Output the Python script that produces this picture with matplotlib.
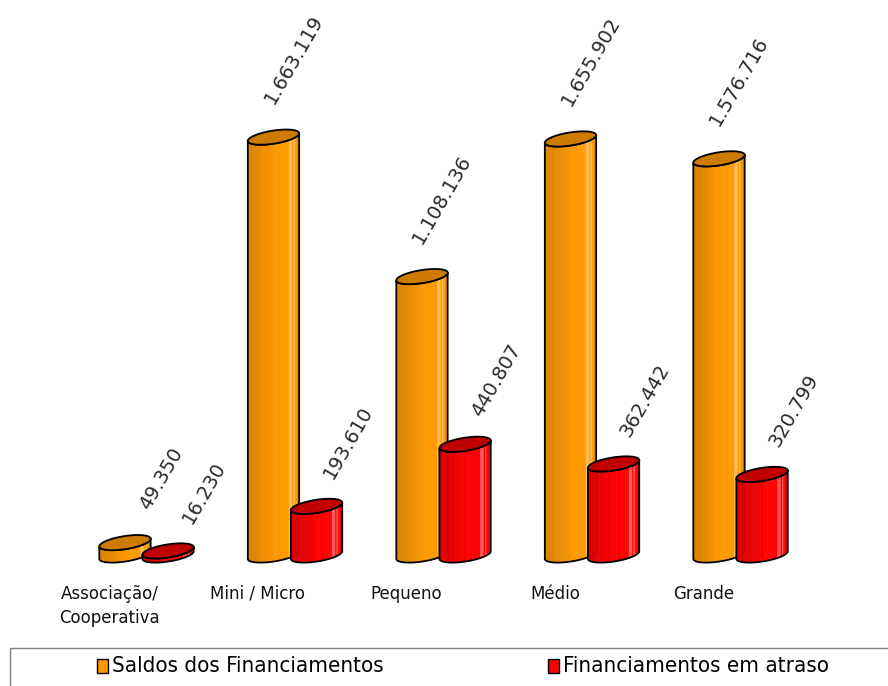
import numpy as np
import matplotlib.pyplot as plt
from matplotlib.patches import Polygon, Rectangle
from matplotlib.transforms import IdentityTransform
from matplotlib.colors import to_rgb

categories = ["Associação/\nCooperativa", "Mini / Micro", "Pequeno", "Médio", "Grande"]
saldos = [49350, 1663119, 1108136, 1655902, 1576716]
atraso = [16230, 193610, 440807, 362442, 320799]
series_names = ["Saldos dos Financiamentos", "Financiamentos em atraso"]
series_colors = ["#FF9900", "#FF0000"]
top_colors = ["#CC7A00", "#C00000"]


def fmt(v):
    return f"{v:,}".replace(",", ".")


def ellipse_pts(cx, cy, rx, ry, ang, t):
    c, s = np.cos(ang), np.sin(ang)
    x = rx * np.cos(t)
    y = ry * np.sin(t)
    return np.column_stack([cx + c * x - s * y, cy + s * x + c * y])


def shade(base, u):
    """Colour of a vertical strip of the cylinder, u=0 left edge, u=1 right edge."""
    rgb = np.array(to_rgb(base))
    f = 0.86 + 0.14 * np.clip((u - 0.1) / 0.45, 0, 1)
    col = rgb * f
    if 0.74 < u < 0.95 and int(u * 36) % 2 == 0:
        col = col + (1 - col) * 0.35
    if u > 0.96:
        col = rgb * 0.92
    return np.clip(col, 0, 1)


def cylinder(ax, xc, w, v, base, top, ry=6.5, tilt=9.0):
    ident = IdentityTransform()
    px0, py0 = ax.transData.transform((xc, 0))
    px1, py1 = ax.transData.transform((xc + w / 2, v))
    rx = px1 - px0
    ang = np.deg2rad(tilt)
    n = 36
    for k in range(n):
        tt = np.linspace(np.pi + k * np.pi / n, np.pi + (k + 1) * np.pi / n, 4)
        bot = ellipse_pts(px0, py0, rx, ry, ang, tt)
        upp = ellipse_pts(px0, py1, rx, ry, ang, tt[::-1])
        u = (1 + np.cos(tt.mean())) / 2
        ax.add_patch(Polygon(np.vstack([bot, upp]), closed=True, transform=ident,
                             facecolor=shade(base, u), edgecolor=shade(base, u),
                             lw=0.4))
    tt = np.linspace(np.pi, 2 * np.pi, 60)
    outline = np.vstack([ellipse_pts(px0, py0, rx, ry, ang, tt),
                         ellipse_pts(px0, py1, rx, ry, ang, tt[::-1])])
    ax.add_patch(Polygon(outline, closed=True, transform=ident, facecolor="none",
                         edgecolor="black", lw=1.3))
    tt = np.linspace(0, 2 * np.pi, 100)
    ax.add_patch(Polygon(ellipse_pts(px0, py1, rx, ry, ang, tt), closed=True,
                         transform=ident, facecolor=top, edgecolor="black", lw=1.3))


fig = plt.figure(figsize=(8.88, 6.86), dpi=100)
ax = fig.add_axes([0, 0, 1, 1])
ax.set_autoscale_on(False)
ax.set_xlim(-0.9865, 4.993)
ax.set_ylim(-131 * 3980, 555 * 3980)
ax.axis("off")

x = np.arange(len(categories))
off = 0.145
width = 0.35
series = [saldos, atraso]
dy = [32, 26]

for i in x:
    for s, vals in enumerate(series):
        xc = i + (off if s else -off)
        cylinder(ax, xc, width, vals[i], series_colors[s], top_colors[s])
        lab = fmt(vals[i])
        ax.annotate(lab, xy=(xc, vals[i]), xytext=(0 + 8 * (9 - len(lab)), dy[s]),
                    textcoords="offset pixels", rotation=60, rotation_mode="anchor",
                    ha="left", va="baseline", fontsize=14, color="#2a2a2a")
    ax.annotate(categories[i], xy=(i - 0.25, 0), xytext=(0, -30),
                textcoords="offset pixels", ha="center", va="top",
                fontsize=12, color="#111111", linespacing=1.45)

# legend box along the bottom
fig.add_artist(Rectangle((10 / 888, -0.02), 1.0, 0.02 + 38 / 686, transform=fig.transFigure,
                         fill=False, edgecolor="#7f7f7f", lw=1.0))
leg_x = [97, 548]
for s, name in enumerate(series_names):
    fig.add_artist(Rectangle((leg_x[s] / 888, 13 / 686), 11 / 888, 14 / 686,
                             transform=fig.transFigure, facecolor=series_colors[s],
                             edgecolor="black", lw=1.0))
    fig.text((leg_x[s] + 15) / 888, 20 / 686, name, ha="left", va="center",
             fontsize=16, fontstretch="condensed",
             family=["Liberation Sans Narrow", "DejaVu Sans"], color="#000000")

fig.savefig("out.png", dpi=100)
